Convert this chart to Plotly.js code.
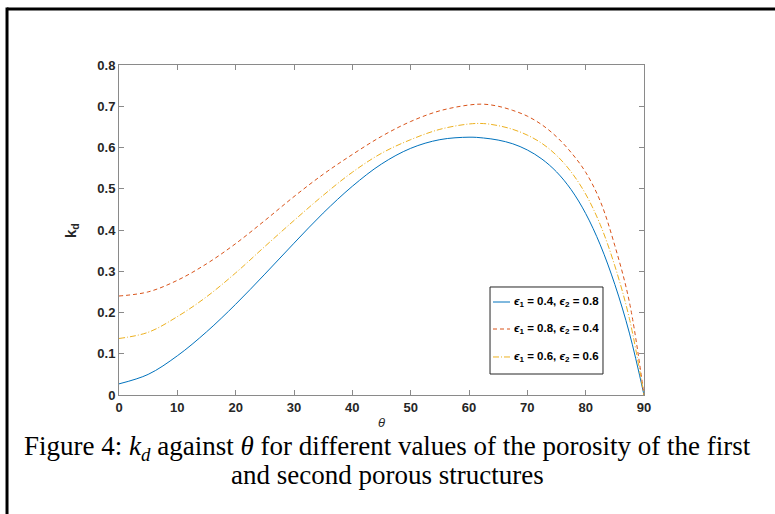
<!DOCTYPE html>
<html><head><meta charset="utf-8">
<script src="https://cdn.plot.ly/plotly-3.0.1.min.js"></script>
<style>html,body{margin:0;padding:0;background:#fff;}#chart{width:775px;height:514px;}</style>
</head><body><div id="chart"></div>
<script>
// theta (degrees)
const theta = [0,5,10,15,20,25,30,35,40,45,50,55,60,62.5,65,67.5,70,72.5,75,77.5,80,82.5,85,87.5,90];
// eps1 = 0.4, eps2 = 0.8
const kdA = [0.027,0.050,0.095,0.153,0.220,0.293,0.368,0.441,0.506,0.560,0.598,0.619,0.625,0.623,0.618,0.609,0.594,0.572,0.541,0.498,0.440,0.364,0.268,0.150,0.000];
// eps1 = 0.8, eps2 = 0.4
const kdB = [0.240,0.250,0.278,0.318,0.367,0.423,0.481,0.535,0.583,0.627,0.663,0.689,0.703,0.705,0.700,0.690,0.676,0.655,0.626,0.588,0.540,0.470,0.362,0.225,0.000];
// eps1 = 0.6, eps2 = 0.6
const kdC = [0.137,0.152,0.190,0.238,0.296,0.360,0.423,0.484,0.540,0.586,0.619,0.644,0.657,0.658,0.653,0.644,0.630,0.610,0.581,0.541,0.487,0.413,0.313,0.185,0.000];

const seriesNames = [
  '<b><i>ϵ</i><sub>1</sub> = 0.4, <i>ϵ</i><sub>2</sub> = 0.8</b>',
  '<b><i>ϵ</i><sub>1</sub> = 0.8, <i>ϵ</i><sub>2</sub> = 0.4</b>',
  '<b><i>ϵ</i><sub>1</sub> = 0.6, <i>ϵ</i><sub>2</sub> = 0.6</b>'
];
const seriesColors = ['#0072BD','#D95319','#EDB120'];
const seriesDash = ['solid','4px,3px','6px,2px,1px,2px'];
const xTickVals = [0,10,20,30,40,50,60,70,80,90];
const yTickVals = [0,0.1,0.2,0.3,0.4,0.5,0.6,0.7,0.8];
const yTickText = ['0','0.1','0.2','0.3','0.4','0.5','0.6','0.7','0.8'];
const xTitle = '<i>θ</i>';
const yTitle = '<b>k<sub>d</sub></b>';
const captionLine1 = 'Figure 4: <i>k<sub>d</sub></i> against <i>θ</i> for different values of the porosity of the first';
const captionLine2 = 'and second porous structures';

const sansFont = 'Liberation Sans, Arial, Helvetica, sans-serif';
const serifFont = 'Liberation Serif, Times New Roman, serif';
const tickFont = {family:sansFont, size:13, color:'#262626', weight:'bold'};

const seriesY = [kdA, kdB, kdC];
const traces = seriesY.map((ys, i) => ({
  x:theta, y:ys, name:seriesNames[i], mode:'lines', showlegend:false,
  line:{color:seriesColors[i], width:1, dash:seriesDash[i], shape:'spline', smoothing:1}
}));

const axisCommon = {
  showline:true, linecolor:'#8a8a8a', linewidth:1, mirror:'ticks',
  ticks:'inside', ticklen:5, tickcolor:'#8a8a8a', tickwidth:1,
  showgrid:false, zeroline:false, tickfont:tickFont, fixedrange:true
};

// manual legend (MATLAB style: short line samples, tight box)
const legBox = {x0:0.7067, x1:0.9219, y0:0.0636, y1:0.3273};
const legRows = [0.2818, 0.2000, 0.1152];
const legShapes = [
  {type:'rect', xref:'paper', yref:'paper', x0:legBox.x0, x1:legBox.x1, y0:legBox.y0, y1:legBox.y1,
   line:{color:'#262626', width:1}, fillcolor:'#fff', layer:'above'}
];
const legAnn = [];
legRows.forEach((ry, i) => {
  legShapes.push({type:'line', xref:'paper', yref:'paper', x0:0.7124, x1:0.7448, y0:ry, y1:ry,
    line:{color:seriesColors[i], width:1, dash:seriesDash[i]}, layer:'above'});
  legAnn.push({text:seriesNames[i], xref:'paper', yref:'paper', x:0.7486, y:ry, xanchor:'left', yanchor:'middle',
    showarrow:false, font:{family:sansFont, size:11.5, color:'#000'}});
});

const layout = {
  width:775, height:514,
  margin:{l:119, r:131, t:65, b:119},
  paper_bgcolor:'#fff', plot_bgcolor:'#fff',
  showlegend:false,
  xaxis:Object.assign({}, axisCommon, {range:[0,90], tickmode:'array', tickvals:xTickVals}),
  yaxis:Object.assign({}, axisCommon, {range:[0,0.8], tickmode:'array', tickvals:yTickVals, ticktext:yTickText}),
  annotations:[
    // axis titles
    {text:xTitle, xref:'paper', yref:'paper', x:0.5, y:-0.082, xanchor:'center', yanchor:'middle', showarrow:false,
     font:{family:sansFont, size:13, color:'#262626'}},
    {text:yTitle, xref:'paper', yref:'paper', x:-0.0895, y:0.497, xanchor:'center', yanchor:'middle', showarrow:false, textangle:-90,
     font:{family:sansFont, size:15, color:'#262626'}},
    // caption
    {text:captionLine1, xref:'paper', yref:'paper', x:0.512, y:-0.162, xanchor:'center', yanchor:'middle', showarrow:false,
     font:{family:serifFont, size:27, color:'#000'}},
    {text:captionLine2, xref:'paper', yref:'paper', x:0.512, y:-0.2424, xanchor:'center', yanchor:'middle', showarrow:false,
     font:{family:serifFont, size:27, color:'#000'}}
  ].concat(legAnn),
  shapes:[
    {type:'line', xref:'paper', yref:'paper', x0:-0.2133, x1:1.35, y0:1.1697, y1:1.1697, line:{color:'#000', width:3}},
    {type:'line', xref:'paper', yref:'paper', x0:-0.2133, x1:-0.2133, y0:1.1745, y1:-0.45, line:{color:'#000', width:3}}
  ].concat(legShapes)
};

Plotly.newPlot('chart', traces, layout, {displayModeBar:false, staticPlot:true});
</script>
</body></html>
